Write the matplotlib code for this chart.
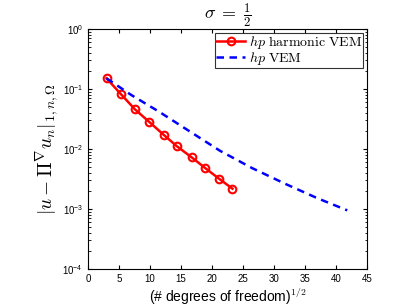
import matplotlib
matplotlib.use("Agg")
import matplotlib.pyplot as plt
import numpy as np

plt.rcParams['font.family'] = ['Liberation Sans', 'DejaVu Sans']
plt.rcParams['mathtext.fontset'] = 'cm'

# red: hp harmonic VEM
x_harm = [3.0, 5.3, 7.6, 9.9, 12.2, 14.35, 16.7, 18.9, 21.1, 23.3]
y_harm = [0.151, 0.0826, 0.0457, 0.0282, 0.0173, 0.0111, 0.0073, 0.00482, 0.00322, 0.00218]

# blue: hp VEM
x_vem = [3.0, 7.0, 11.5, 16.3, 21.3, 26.5, 31.8, 37.0, 41.8]
y_vem = [0.151, 0.0794, 0.0417, 0.0200, 0.00933, 0.00479, 0.00263, 0.00151, 0.00095]

xticks = [0, 5, 10, 15, 20, 25, 30, 35, 40, 45]

fig = plt.figure(figsize=(4.07, 3.06), dpi=100)
ax = fig.add_axes([0.216, 0.121, 0.686, 0.784])

ax.semilogy(x_harm, y_harm, '-o', color='red', lw=1.8, ms=5.5, mfc='none', mew=1.5,
            label=r'$hp\ \mathrm{harmonic\ VEM}$')
ax.semilogy(x_vem, y_vem, '--', color='blue', lw=1.8, dashes=(3, 2.2),
            label=r'$hp\ \mathrm{VEM}$')

ax.set_xlim(0, 45)
ax.set_ylim(1e-4, 1)
ax.set_xticks(xticks)
ax.tick_params(which='both', direction='in', top=True, right=True, labelsize=7)
ax.tick_params(which='major', length=3)
ax.tick_params(which='minor', length=1.8)
ax.minorticks_on()
ax.xaxis.set_minor_locator(matplotlib.ticker.NullLocator())

ax.set_title(r'$\sigma\;=\;\frac{1}{2}$', fontsize=13, pad=4)
ax.set_xlabel(r'(# degrees of freedom)$^{1/2}$', fontsize=10, labelpad=2)
ax.set_ylabel(r'$|u-\Pi^{\nabla} u_n|_{1,n,\Omega}$', fontsize=14, labelpad=1)

leg = ax.legend(loc='upper right', fontsize=10, frameon=True, fancybox=False,
                edgecolor='black', handlelength=2.1, borderpad=0.05,
                labelspacing=-0.05, handletextpad=0.25, borderaxespad=0.3)
leg.get_frame().set_linewidth(0.8)

fig.savefig('out.png', dpi=100)
